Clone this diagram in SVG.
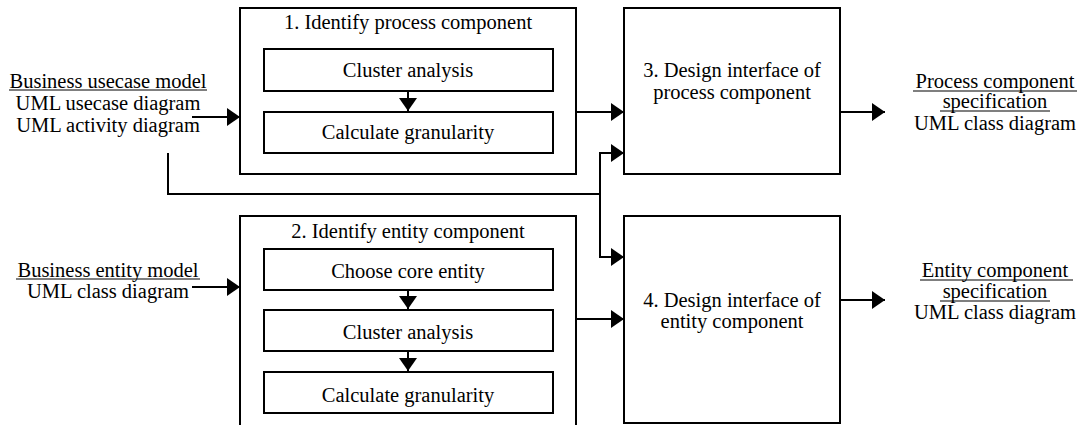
<svg xmlns="http://www.w3.org/2000/svg" width="1084" height="425" viewBox="0 0 1084 425">
<style>
  .box{fill:#fff;stroke:#000;stroke-width:2}
  .t{font-family:"Liberation Serif","Times New Roman",serif;font-size:20.5px;fill:#000;text-anchor:middle}
  .c{fill:none;stroke:#000;stroke-width:2}
  .u{stroke:#000;stroke-width:1.2}
</style>
<defs>
  <marker id="ah" markerUnits="userSpaceOnUse" viewBox="0 0 13 18" refX="13" refY="9" markerWidth="13" markerHeight="18" orient="auto">
    <path d="M0,0 L13,9 L0,18 z" fill="#000"/>
  </marker>
</defs>
<rect width="1084" height="425" fill="#fff"/>

<g id="input-usecase">
  <text class="t" x="108" y="88">Business usecase model</text>
  <line class="u" x1="9" y1="90" x2="207" y2="90"/>
  <text class="t" x="108" y="110">UML usecase diagram</text>
  <text class="t" x="108" y="132">UML activity diagram</text>
</g>
<g id="input-entity">
  <text class="t" x="108" y="277">Business entity model</text>
  <line class="u" x1="16" y1="279" x2="200" y2="279"/>
  <text class="t" x="108" y="298">UML class diagram</text>
</g>

<g id="node1">
  <rect class="box" x="240" y="8" width="336" height="166"/>
  <text class="t" x="408" y="29">1. Identify process component</text>
  <rect class="box" x="264" y="49" width="289" height="42"/>
  <text class="t" x="408" y="77">Cluster analysis</text>
  <rect class="box" x="264" y="112" width="289" height="41"/>
  <text class="t" x="408" y="139">Calculate granularity</text>
</g>

<g id="node2">
  <rect class="box" x="240" y="216" width="336" height="215"/>
  <text class="t" x="408" y="238">2. Identify entity component</text>
  <rect class="box" x="264" y="249" width="289" height="41"/>
  <text class="t" x="408" y="278">Choose core entity</text>
  <rect class="box" x="264" y="310" width="289" height="41"/>
  <text class="t" x="408" y="339">Cluster analysis</text>
  <rect class="box" x="264" y="372" width="289" height="41"/>
  <text class="t" x="408" y="402">Calculate granularity</text>
</g>

<g id="node3">
  <rect class="box" x="624" y="8" width="216" height="166"/>
  <text class="t" x="732" y="77">3. Design interface of</text>
  <text class="t" x="732" y="99">process component</text>
</g>

<g id="node4">
  <rect class="box" x="624" y="216" width="216" height="207"/>
  <text class="t" x="732" y="307">4. Design interface of</text>
  <text class="t" x="732" y="328">entity component</text>
</g>

<g id="output-process">
  <text class="t" x="995" y="88">Process component</text>
  <line class="u" x1="913" y1="91" x2="1077" y2="91"/>
  <text class="t" x="995" y="108">specification</text>
  <line class="u" x1="940" y1="111" x2="1050" y2="111"/>
  <text class="t" x="995" y="130">UML class diagram</text>
</g>
<g id="output-entity">
  <text class="t" x="995" y="277">Entity component</text>
  <line class="u" x1="920" y1="280" x2="1073" y2="280"/>
  <text class="t" x="995" y="298">specification</text>
  <line class="u" x1="940" y1="301" x2="1050" y2="301"/>
  <text class="t" x="995" y="319">UML class diagram</text>
</g>

<g id="connectors">
  <line class="c" x1="192" y1="117" x2="240" y2="117" marker-end="url(#ah)"/>
  <line class="c" x1="192" y1="287" x2="240" y2="287" marker-end="url(#ah)"/>
  <line class="c" x1="408" y1="91" x2="408" y2="111" marker-end="url(#ah)"/>
  <line class="c" x1="408" y1="290" x2="408" y2="309" marker-end="url(#ah)"/>
  <line class="c" x1="408" y1="351" x2="408" y2="371" marker-end="url(#ah)"/>
  <line class="c" x1="576" y1="112" x2="624" y2="112" marker-end="url(#ah)"/>
  <line class="c" x1="576" y1="319" x2="624" y2="319" marker-end="url(#ah)"/>
  <polyline class="c" points="168,153 168,194 600,194"/>
  <line class="c" x1="600" y1="153" x2="600" y2="257"/>
  <line class="c" x1="599" y1="153" x2="624" y2="153" marker-end="url(#ah)"/>
  <line class="c" x1="599" y1="257" x2="624" y2="257" marker-end="url(#ah)"/>
  <line class="c" x1="840" y1="112" x2="885" y2="112" marker-end="url(#ah)"/>
  <line class="c" x1="840" y1="300" x2="885" y2="300" marker-end="url(#ah)"/>
</g>
</svg>
